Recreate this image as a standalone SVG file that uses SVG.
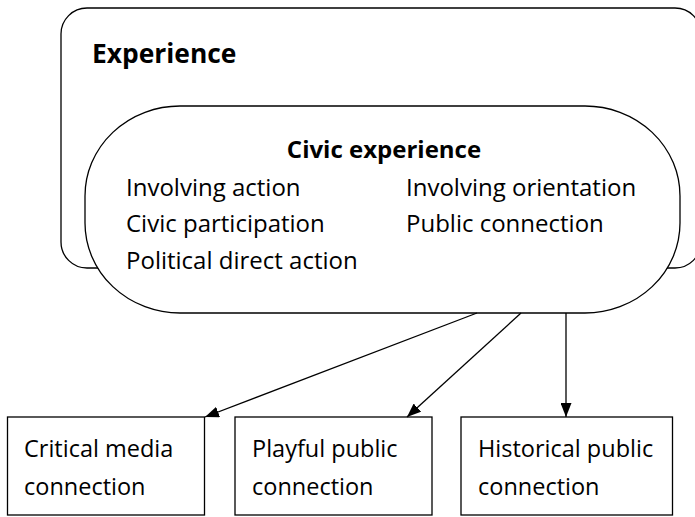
<svg xmlns="http://www.w3.org/2000/svg" width="695" height="517" viewBox="0 0 695 517">
<style>
.shape{fill:#fff;stroke:#000;stroke-width:1.3}
.t{font-family:"Open Sans","Noto Sans",sans-serif;font-size:24px;fill:#000}
.s{font-size:23.5px}
.b{font-weight:bold;font-size:24px}
.conn{stroke:#000;stroke-width:1.3;fill:none}
</style>
<defs>
<marker id="arr" viewBox="0 0 14 11" refX="14" refY="5.5" markerWidth="14" markerHeight="11" markerUnits="userSpaceOnUse" orient="auto">
<path d="M0,0 L14,5.5 L0,11 Z" fill="#000"/>
</marker>
</defs>
<rect width="695" height="517" fill="#fff"/>
<g id="experience">
<rect class="shape" x="61" y="8" width="640" height="260" rx="26" ry="26"/>
<text class="t b" x="92" y="63" style="font-size:26.4px">Experience</text>
</g>
<g id="civic-experience">
<rect class="shape" x="85" y="106" width="595" height="207" rx="95" ry="90"/>
<text class="t b" x="384" y="158" text-anchor="middle">Civic experience</text>
<text class="t" x="126" y="196">Involving action</text>
<text class="t" x="406" y="196">Involving orientation</text>
<text class="t" x="126" y="232">Civic participation</text>
<text class="t" x="406" y="232">Public connection</text>
<text class="t" x="126" y="269">Political direct action</text>
</g>
<g id="critical">
<rect class="shape" x="7.5" y="417" width="197" height="98"/>
<text class="t s" x="24" y="457">Critical media</text>
<text class="t s" x="24" y="495">connection</text>
</g>
<g id="playful">
<rect class="shape" x="235" y="417" width="197" height="98"/>
<text class="t s" x="252" y="457">Playful public</text>
<text class="t s" x="252" y="495">connection</text>
</g>
<g id="historical">
<rect class="shape" x="461" y="417" width="211.5" height="98"/>
<text class="t s" x="478" y="457">Historical public</text>
<text class="t s" x="478" y="495">connection</text>
</g>
<g id="connectors">
<line class="conn" x1="477" y1="313" x2="205" y2="417" marker-end="url(#arr)"/>
<line class="conn" x1="521" y1="313" x2="407" y2="417" marker-end="url(#arr)"/>
<line class="conn" x1="566" y1="313" x2="566" y2="417" marker-end="url(#arr)"/>
</g>
</svg>
